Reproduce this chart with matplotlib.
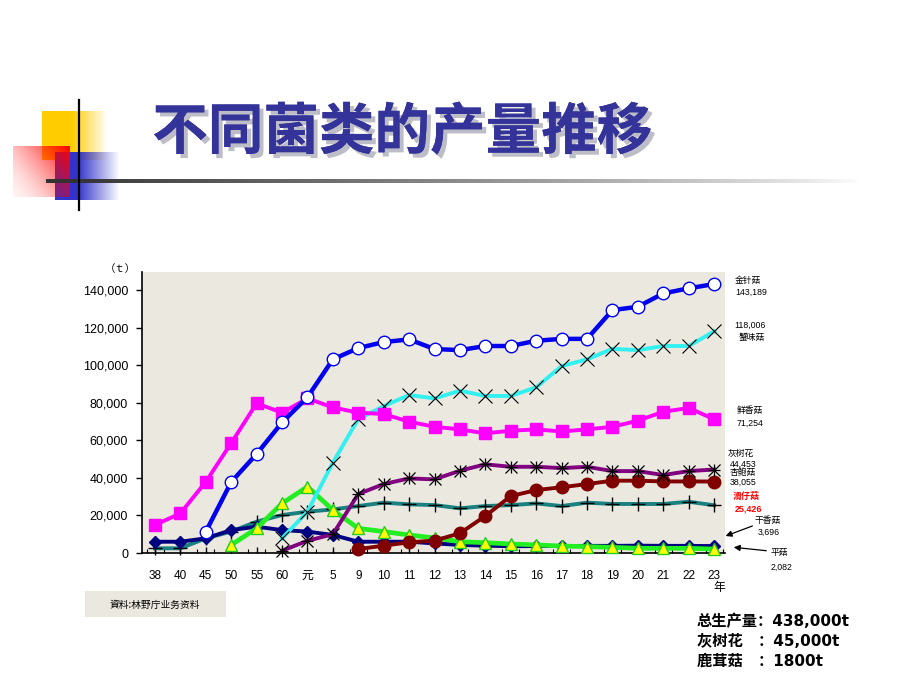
import numpy as np
import matplotlib
matplotlib.use('Agg')
import matplotlib.pyplot as plt
import matplotlib.patheffects as pe
from matplotlib.patches import Rectangle

nan = np.nan
categories = ['38', '40', '45', '50', '55', '60', '元', '5', '9', '10', '11', '12',
              '13', '14', '15', '16', '17', '18', '19', '20', '21', '22', '23']

jinzhengu = [nan, nan, 11300, 37800, 52700, 69500, 82900, 103100, 109100, 112300, 113700,
             108600, 108000, 110200, 110200, 113000, 114000, 114000, 129300, 131100,
             138200, 140900, 143189]
xieweigu = [nan, nan, nan, nan, nan, 7800, 22000, 48100, 71300, 78200, 84100, 82300,
            86400, 83600, 83600, 88200, 99500, 103100, 108700, 108000, 110200, 110200,
            118006]
xianxianggu = [14900, 21100, 37900, 58500, 79700, 74700, 82300, 77500, 74700, 74000, 69900,
               67200, 65800, 63700, 65100, 65800, 64700, 65800, 67200, 70400, 75200,
               77200, 71254]
huishuhua = [nan, nan, nan, nan, nan, 1200, 6500, 10000, 31400, 36700, 39700, 39200,
             43800, 47200, 45900, 45900, 45200, 45900, 43600, 43600, 41500, 43600, 44453]
xingbaogu = [nan, nan, nan, nan, nan, nan, nan, nan, 2100, 3900, 5700, 6600, 10500,
             19700, 30300, 33500, 35000, 36700, 38500, 38500, 38100, 38100, 38055]
huazaigu = [2500, 2500, 7800, 11400, 16700, 20200, 22000, 23200, 25000, 26800, 25900,
            25500, 23800, 25000, 25500, 26400, 25000, 26800, 26100, 26100, 26100, 27300,
            25426]
ganxianggu = [6000, 6000, 7800, 12200, 14000, 12200, 11400, 9600, 6000, 6000, 6000, 5100,
              4300, 3900, 3600, 3700, 3700, 3800, 3800, 3900, 3800, 3800, 3696]
pinggu = [nan, nan, nan, 4300, 13100, 26400, 35300, 22900, 13100, 11400, 9600, 8000,
          6000, 5500, 4800, 4300, 3700, 3400, 3000, 2500, 2500, 2500, 2082]

yticks = [0, 20000, 40000, 60000, 80000, 100000, 120000, 140000]

CJK = 'Noto Sans CJK SC'
LAT = ['Liberation Sans', CJK]

fig = plt.figure(figsize=(9.2, 6.9), dpi=100)
fig.patch.set_facecolor('white')

# ---------- decoration layer (pixel coords) ----------
deco = fig.add_axes([0, 0, 1, 1], zorder=0)
deco.set_xlim(0, 920)
deco.set_ylim(690, 0)
deco.axis('off')


def block(ax, x0, x1, y0, y1, rgb, alpha_fn, z):
    w, h = 80, 80
    u = np.linspace(0, 1, w)[None, :].repeat(h, 0)
    v = np.linspace(0, 1, h)[:, None].repeat(w, 1)
    arr = np.zeros((h, w, 4))
    arr[..., 0], arr[..., 1], arr[..., 2] = rgb
    arr[..., 3] = np.clip(alpha_fn(u, v), 0, 1)
    ax.imshow(arr, extent=(x0, x1, y1, y0), interpolation='bilinear', zorder=z, aspect='auto')


block(deco, 42, 108, 111, 160, (1.0, 0.8, 0.0),
      lambda u, v: np.where(u < 0.45, 1.0, 1 - (u - 0.45) / 0.55), 1)
block(deco, 55, 120, 152, 200, (0.2, 0.2, 0.8),
      lambda u, v: np.where(u < 0.35, 1.0, 1 - (u - 0.35) / 0.65), 2)
block(deco, 13, 70, 146, 197, (1.0, 0.0, 0.0),
      lambda u, v: 0.05 + 0.95 * (0.6 * u + 0.4 * (1 - v)) ** 1.6, 3)
# horizontal fading line
hl = np.zeros((2, 200, 4))
hl[..., 0:3] = 0.2
hl[..., 3] = np.linspace(1, 0, 200)[None, :] ** 0.8
deco.imshow(hl, extent=(46, 862, 183, 179), interpolation='bilinear', zorder=4, aspect='auto')
deco.plot([79, 79], [100, 210], color='black', lw=1.6, zorder=5)
deco.set_xlim(0, 920)
deco.set_ylim(690, 0)

# title with shadow
deco.text(402, 133, '不同菌类的产量推移', ha='center', va='center', fontsize=40,
          fontweight='bold', color='#333399', family=CJK, zorder=7,
          path_effects=[pe.withSimplePatchShadow(offset=(3, -3), shadow_rgbFace='#888899',
                                                 alpha=0.55), pe.Normal()])

# ---------- main chart ----------
ax = fig.add_axes([142 / 920, 1 - 553 / 690, 583 / 920, 281 / 690], zorder=2)
ax.set_facecolor('#EBE8DF')
x = np.arange(len(categories))

lw = 2.8
ax.plot(x, huazaigu, color='#1A8080', lw=lw, marker='+', ms=10, mec='black', mew=1.0, zorder=3, clip_on=False)
ax.plot(x, ganxianggu, color='#000080', lw=lw, marker='D', ms=6.5, mfc='#000080', mec='#000080', zorder=4, clip_on=False)
ax.plot(x, pinggu, color='#22EE22', lw=lw + 0.6, marker='^', ms=9, mfc='#FFFF00', mec='#22CC22', mew=1.0, zorder=4.5, clip_on=False)
ax.plot(x, xingbaogu, color='#800000', lw=lw, marker='o', ms=9, mfc='#800000', mec='#800000', zorder=4.6, clip_on=False)
ax.plot(x, huishuhua, color='#800080', lw=lw, marker='x', ms=9, mec='black', mew=0.9, zorder=4.7, clip_on=False)
ax.plot(x, huishuhua, lw=0, marker='+', ms=9, mec='black', mew=0.9, zorder=4.7, clip_on=False)
ax.plot(x, xieweigu, color='#33F0F0', lw=lw, marker='x', ms=10, mec='black', mew=0.8, zorder=5, clip_on=False)
ax.plot(x, xianxianggu, color='#FF00FF', lw=lw, marker='s', ms=9, mfc='#FF00FF', mec='#FF00FF', zorder=5, clip_on=False)
ax.plot(x, jinzhengu, color='#0000EE', lw=lw + 0.4, marker='o', ms=9, mfc='white', mec='#0000EE', mew=1.0, zorder=6, clip_on=False)

ax.set_xlim(-0.51, 22.43)
ax.set_ylim(0, 149600)
for s in ['top', 'right']:
    ax.spines[s].set_visible(False)
for s in ['left', 'bottom']:
    ax.spines[s].set_color('black')
    ax.spines[s].set_linewidth(1.2)

ax.set_yticks(yticks)
ax.set_yticklabels([f'{v:,}' for v in yticks], family=LAT, fontsize=9)
ax.tick_params(axis='y', direction='out', length=4, width=1, pad=6)
ax.set_xticks(x)
ax.set_xticklabels(categories, family=LAT, fontsize=8.5)
ax.tick_params(axis='x', direction='in', length=4, width=1, pad=12)
ax.set_xticks(np.arange(-0.33, 22.5, 2 / 3), minor=True)
ax.tick_params(axis='x', which='minor', direction='in', length=3, width=0.8)

# ---------- top text layer ----------
top = fig.add_axes([0, 0, 1, 1], zorder=5)
top.set_xlim(0, 920)
top.set_ylim(690, 0)
top.axis('off')

top.text(120, 269, '（ｔ）', ha='center', va='center', fontsize=7.5, family=CJK)
top.text(719, 588, '年', ha='center', va='center', fontsize=8.5, family=CJK)

small = dict(fontsize=6.3, family=LAT, va='center', ha='left')
top.text(735, 281, '金针菇', **small)
top.text(735, 292, '143,189', **small)
top.text(734, 325, '118,006', **small)
top.text(739, 337, '蟹味菇', **small)
top.text(737, 410, '鲜香菇', **small)
top.text(737, 423, '71,254', **small)
top.text(728, 453, '灰树花', **small)
top.text(730, 464, '44,453', **small)
top.text(730, 473, '杏鲍菇', **small)
top.text(730, 482, '38,055', **small)
top.text(733, 496, '滑仔菇', fontsize=6.5, family=LAT, va='center', ha='left', color='red', fontweight='bold')
top.text(735, 509, '25,426', fontsize=6.5, family=LAT, va='center', ha='left', color='red', fontweight='bold')
top.text(755, 521, '干香菇', **small)
top.text(758, 532, '3,696', **small)
top.text(771, 553, '平菇', **small)
top.text(771, 567, '2,082', **small)

arrow = dict(arrowstyle='-|>', color='black', lw=0.9, mutation_scale=9)
top.annotate('', xy=(723, 537), xytext=(755, 525), arrowprops=arrow)
top.annotate('', xy=(731, 547), xytext=(769, 551), arrowprops=arrow)

top.add_patch(Rectangle((85, 591), 141, 26, facecolor='#EBE8DF', edgecolor='none'))
top.text(155, 605, '資料:林野庁业务资料', ha='center', va='center', fontsize=7, family=CJK)

bold = dict(fontsize=11, fontweight='bold', family=['DejaVu Sans', CJK], va='center', ha='left')
top.text(697, 621, '总生产量：438,000t', **bold)
top.text(697, 641, '灰树花　：45,000t', **bold)
top.text(697, 661, '鹿茸菇　：1800t', **bold)

fig.savefig('out.png', dpi=100)
